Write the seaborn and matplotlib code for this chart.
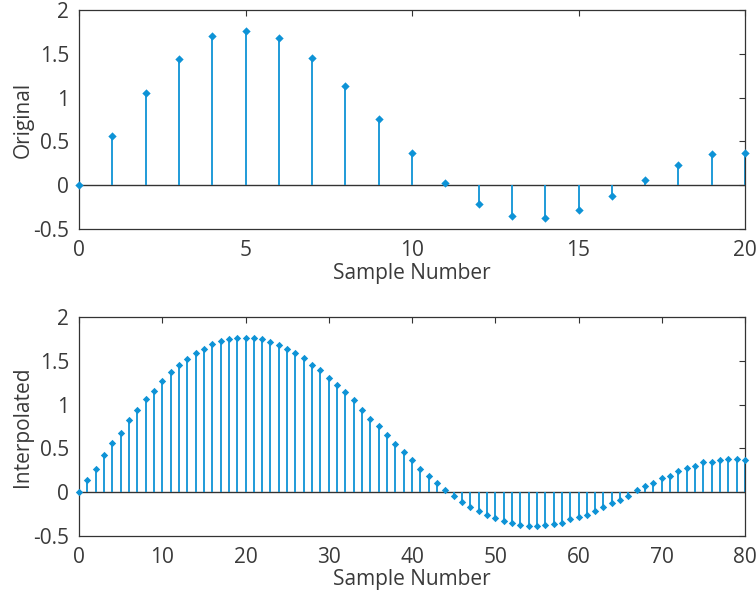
import numpy as np
import pandas as pd
import matplotlib
matplotlib.use('Agg')
import matplotlib.pyplot as plt
import seaborn as sns

''' DATA '''
orig_n = list(range(0, 21))
orig_vals = [0.0, 0.56, 1.05, 1.44, 1.70, 1.76, 1.68, 1.45, 1.13, 0.75, 0.37,
             0.03, -0.21, -0.35, -0.37, -0.28, -0.125, 0.064, 0.235, 0.356, 0.37]

interp_n = list(range(0, 81))
interp_vals = [0.0, 0.134, 0.27, 0.43, 0.56, 0.68, 0.82, 0.94, 1.06, 1.16,
               1.27, 1.37, 1.45, 1.52, 1.59, 1.64, 1.69, 1.725, 1.745, 1.76,
               1.76, 1.76, 1.75, 1.71, 1.68, 1.64, 1.59, 1.53, 1.45, 1.39,
               1.30, 1.22, 1.14, 1.05, 0.94, 0.84, 0.76, 0.65, 0.55, 0.46,
               0.37, 0.27, 0.19, 0.10, 0.03, -0.04, -0.11, -0.17, -0.22, -0.26,
               -0.30, -0.33, -0.35, -0.37, -0.385, -0.385, -0.37, -0.36, -0.35, -0.31,
               -0.28, -0.26, -0.21, -0.17, -0.12, -0.09, -0.04, 0.02, 0.07, 0.10,
               0.16, 0.19, 0.24, 0.28, 0.30, 0.34, 0.345, 0.37, 0.38, 0.38,
               0.37]

''' STYLE '''
sns.set_style('white')
plt.rcParams['font.family'] = ['Open Sans', 'DejaVu Sans']
stem_color = '#0e93d6'
text_color = '#3a3a3a'
fsize = 15

fig = plt.figure(figsize=(7.56, 5.93), dpi=100)
ax1 = fig.add_axes([79/756, 1 - 229/593, 666/756, 219/593])
ax2 = fig.add_axes([79/756, 1 - 536/593, 666/756, 219/593])


def stem_plot(ax, n, vals, xmax, xticks, ylabel, msize):
    df = pd.DataFrame({'n': n, 'val': vals})
    ax.axhline(0, color='#333333', lw=1.0, zorder=1)
    ax.vlines(df['n'], 0, df['val'], color=stem_color, lw=1.3, zorder=2)
    sns.scatterplot(data=df, x='n', y='val', ax=ax, marker='D', s=msize,
                    color=stem_color, edgecolor=stem_color, linewidth=0,
                    zorder=3, clip_on=False)
    ax.set_xlim(0, xmax)
    ax.set_ylim(-0.5, 2)
    ax.set_xticks(xticks)
    ax.set_yticks([-0.5, 0, 0.5, 1, 1.5, 2])
    ax.set_yticklabels(['-0.5', '0', '0.5', '1', '1.5', '2'])
    ax.tick_params(axis='both', direction='in', length=4, top=True, right=True,
                   labelsize=fsize, colors='#333333', labelcolor=text_color,
                   width=0.8)
    ax.tick_params(axis='x', pad=8)
    ax.tick_params(axis='y', pad=7)
    for sp in ax.spines.values():
        sp.set_color('#333333')
        sp.set_linewidth(0.9)
    ax.set_xlabel('Sample Number', fontsize=fsize, color=text_color, labelpad=1)
    ax.set_ylabel(ylabel, fontsize=fsize, color=text_color, labelpad=0)


stem_plot(ax1, orig_n, orig_vals, 20, [0, 5, 10, 15, 20], 'Original', 18)
stem_plot(ax2, interp_n, interp_vals, 80, [0, 10, 20, 30, 40, 50, 60, 70, 80],
          'Interpolated', 14)

plt.savefig('out.png', dpi=100)
